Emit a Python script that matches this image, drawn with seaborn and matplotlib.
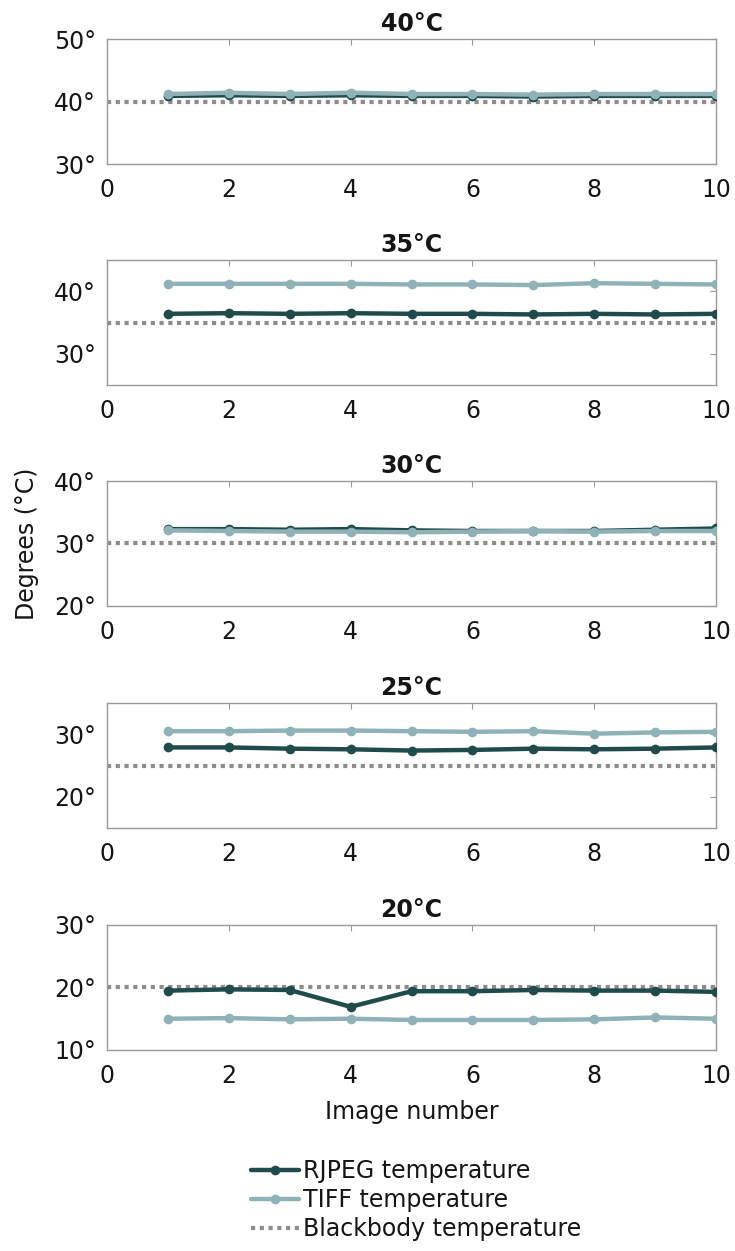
import numpy as np
import pandas as pd
import matplotlib
matplotlib.use("Agg")
import matplotlib.pyplot as plt
import seaborn as sns
from matplotlib.lines import Line2D

sns.set_theme(style="white")
plt.rcParams['font.family'] = ['DejaVu Sans']

images = [1, 2, 3, 4, 5, 6, 7, 8, 9, 10]
panel_titles = ["40°C", "35°C", "30°C", "25°C", "20°C"]
blackbody = [40, 35, 30, 25, 20]

rjpeg_40 = [40.9, 41.0, 40.9, 41.0, 40.9, 40.9, 40.8, 40.9, 40.9, 40.9]
tiff_40 = [41.2, 41.4, 41.2, 41.4, 41.2, 41.2, 41.1, 41.2, 41.2, 41.2]
rjpeg_35 = [36.4, 36.5, 36.4, 36.5, 36.4, 36.4, 36.3, 36.4, 36.3, 36.4]
tiff_35 = [41.2, 41.2, 41.2, 41.2, 41.1, 41.1, 41.0, 41.3, 41.2, 41.1]
rjpeg_30 = [32.3, 32.3, 32.2, 32.3, 32.1, 32.0, 32.0, 32.0, 32.2, 32.4]
tiff_30 = [32.1, 32.0, 31.9, 31.9, 31.8, 31.9, 32.0, 31.9, 32.0, 32.0]
rjpeg_25 = [27.9, 27.9, 27.7, 27.6, 27.4, 27.5, 27.7, 27.6, 27.7, 27.9]
tiff_25 = [30.5, 30.5, 30.6, 30.6, 30.5, 30.4, 30.5, 30.1, 30.3, 30.4]
rjpeg_20 = [19.5, 19.7, 19.6, 16.9, 19.4, 19.4, 19.6, 19.5, 19.5, 19.3]
tiff_20 = [15.0, 15.1, 14.9, 15.0, 14.8, 14.8, 14.8, 14.9, 15.2, 15.0]

rjpeg_all = [rjpeg_40, rjpeg_35, rjpeg_30, rjpeg_25, rjpeg_20]
tiff_all = [tiff_40, tiff_35, tiff_30, tiff_25, tiff_20]
y_limits = [(30, 50), (25, 45), (20, 40), (15, 35), (10, 30)]
y_ticks = [[30, 40, 50], [30, 40], [20, 30, 40], [20, 30], [10, 20, 30]]
x_ticks = [0, 2, 4, 6, 8, 10]

c_rjpeg = "#1f4b4c"
c_tiff = "#8fb1b8"
c_bb = "#8c8c8c"
c_text = "#151515"

fig = plt.figure(figsize=(7.35, 12.51), dpi=100)
left, width, height = 0.1456, 0.8286, 0.0999
bottoms = [0.8689, 0.6922, 0.5156, 0.3381, 0.1607]

for i in range(5):
    ax = fig.add_axes([left, bottoms[i], width, height])
    df = pd.DataFrame({
        "Image": images * 2,
        "Temp": rjpeg_all[i] + tiff_all[i],
        "Series": ["RJPEG temperature"] * 10 + ["TIFF temperature"] * 10,
    })
    ax.axhline(blackbody[i], color=c_bb, lw=3, ls=(0, (1, 1.1)), zorder=1)
    sns.lineplot(data=df, x="Image", y="Temp", hue="Series",
                 palette={"RJPEG temperature": c_rjpeg, "TIFF temperature": c_tiff},
                 marker="o", markersize=7, markeredgewidth=0, lw=3.2,
                 legend=False, ax=ax, zorder=3)
    ax.set_xlim(0, 10)
    ax.set_ylim(*y_limits[i])
    ax.set_xticks(x_ticks)
    ax.set_yticks(y_ticks[i])
    ax.set_yticklabels([f"{t}°" for t in y_ticks[i]])
    ax.set_xlabel("")
    ax.set_ylabel("")
    ax.set_title(panel_titles[i], fontsize=17, fontweight="bold", pad=6, color=c_text)
    ax.tick_params(axis="both", which="both", direction="in", length=4,
                   width=0.8, color="#999999", labelsize=17, top=True, right=True,
                   labelcolor=c_text, pad=8)
    ax.tick_params(axis="x", pad=10)
    for s in ax.spines.values():
        s.set_color("#9a9a9a")
        s.set_linewidth(1.0)
    if i == 4:
        ax.set_xlabel("Image number", fontsize=17, color=c_text, labelpad=9)

fig.text(0.037, 0.565, "Degrees (°C)", rotation=90, fontsize=17,
         va="center", ha="center", color=c_text)

handles = [
    Line2D([], [], color=c_rjpeg, lw=3.2, marker="o", markersize=7, markeredgewidth=0),
    Line2D([], [], color=c_tiff, lw=3.2, marker="o", markersize=7, markeredgewidth=0),
    Line2D([], [], color=c_bb, lw=3, ls=(0, (1, 1.1))),
]
labels = ["RJPEG temperature", "TIFF temperature", "Blackbody temperature"]
leg = fig.legend(handles, labels, loc="upper left", bbox_to_anchor=(0.326, 0.083),
                 frameon=False, fontsize=17, handlelength=2.0, handletextpad=0.2,
                 labelspacing=0.22, borderpad=0)
for t in leg.get_texts():
    t.set_color(c_text)

fig.savefig("out.png", dpi=100)
